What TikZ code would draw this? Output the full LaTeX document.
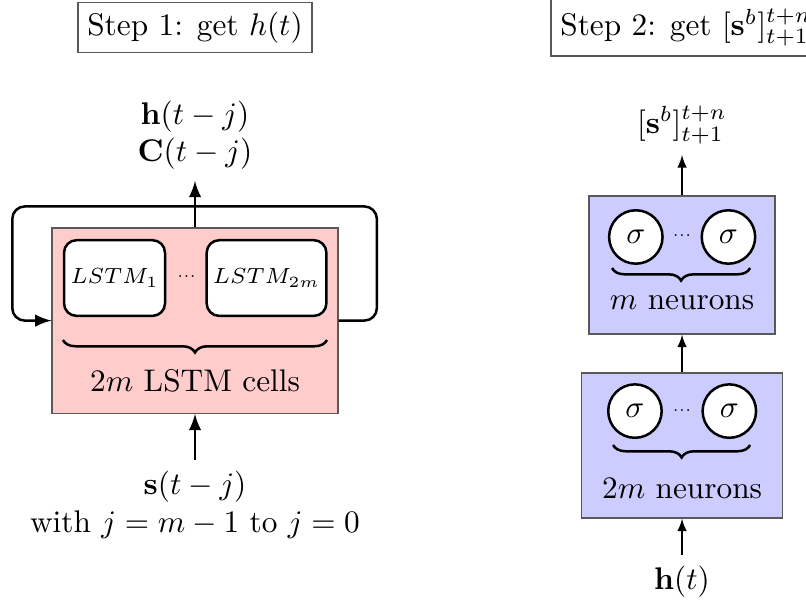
\documentclass[tikz,border=0pt]{standalone}
\usetikzlibrary{decorations.pathreplacing}
\begin{document}
\begin{tikzpicture}[
    stepbox/.style={draw=black!65, text=black, inner sep=3pt},
    layer/.style={draw=black!65, fill=#1!20},
    cell/.style={draw, thick, rounded corners=4pt, fill=white, minimum height=0.85cm, inner sep=2pt, font=\fontsize{7.5}{9}\selectfont},
    neuron/.style={circle, draw, thick, fill=white, minimum size=0.6cm, inner sep=0pt},
    gap/.style={font=\tiny, inner sep=1pt},
    groupbrace/.style={decorate, decoration={brace, mirror, amplitude=4pt}, thick},
    flow/.style={-latex},
    thickflow/.style={-latex, thick}
]
\useasboundingbox (0,0) rectangle (9.051,-6.805);

% Titles
\node[stepbox] (step1) at (2.19,-0.31) {Step 1: get $h(t)$};
\node[stepbox, anchor=west] (step2) at (6.18,-0.31) {Step 2: get $[\mathbf{s}^b]_{t+1}^{t+n}$};

% Step 1: recurrent LSTM layer
\node[layer=red, minimum width=3.21cm, minimum height=2.08cm] (lstm) at (2.19,-3.60) {};
\node[cell, minimum width=1.134cm] (cell1) at (1.286,-3.122) {$LSTM_1$};
\node[cell, minimum width=1.336cm] (cellN) at (2.993,-3.122) {$LSTM_{2m}$};
\node[gap] (dots1) at (2.094,-3.11) {...};
\draw[groupbrace] (0.707,-3.818) -- (3.672,-3.818);
\node (cells) at (2.19,-4.279) {$2m$ LSTM cells};

\node[align=center] (state) at (2.19,-1.52) {$\mathbf{h}(t-j)$\\$\mathbf{C}(t-j)$};
\node[align=center] (input) at (2.19,-5.67) {$\mathbf{s}(t-j)$\\with $j=m-1$ to $j=0$};

\draw[thickflow] (input) -- (lstm);
\draw[thickflow] (lstm) -- (state);
% feedback loop
\draw[thickflow, rounded corners=4pt] (lstm.east) -- ++(0.43,0) |- ([yshift=0.235cm]lstm.north) -| ([xshift=-0.44cm]lstm.west) -- (lstm.west);

% Step 2: dense layers
\node[layer=blue, minimum width=2.257cm, minimum height=1.628cm] (hidden) at (7.659,-5.003) {};
\node[neuron] (h1) at (7.13,-4.616) {$\sigma$};
\node[neuron] (h2) at (8.19,-4.616) {$\sigma$};
\node[gap] (dots2) at (7.659,-4.605) {...};
\draw[groupbrace] (6.885,-4.997) -- (8.423,-4.997);
\node (hlbl) at (7.659,-5.491) {$2m$ neurons};

\node[layer=blue, minimum width=2.089cm, minimum height=1.55cm] (output) at (7.659,-2.976) {};
\node[neuron] (o1) at (7.14,-2.661) {$\sigma$};
\node[neuron] (o2) at (8.18,-2.661) {$\sigma$};
\node[gap] (dots3) at (7.659,-2.65) {...};
\draw[groupbrace] (6.873,-3.01) -- (8.423,-3.01);
\node (olbl) at (7.659,-3.403) {$m$ neurons};

\node (hin) at (7.659,-6.536) {$\mathbf{h}(t)$};
\node (sout) at (7.659,-1.404) {$[\mathbf{s}^b]_{t+1}^{t+n}$};

\draw[flow] (hin) -- (hidden);
\draw[flow] (hidden) -- (output);
\draw[flow] (output) -- (sout);
\end{tikzpicture}
\end{document}
